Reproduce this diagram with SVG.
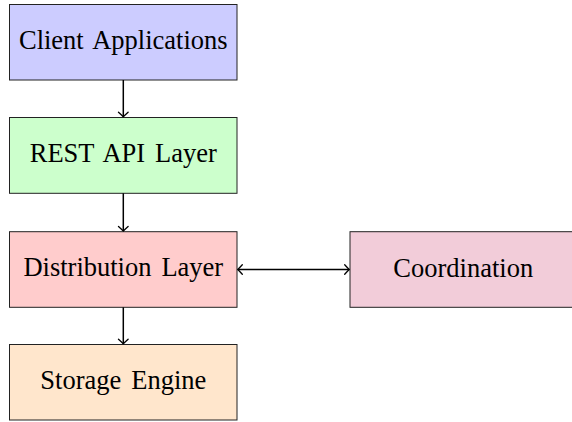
<svg xmlns="http://www.w3.org/2000/svg" width="572" height="422" viewBox="0 0 572 422">
<style>
.box{stroke:#222;stroke-width:1}
.lbl{font-family:"Liberation Serif","Times New Roman",serif;font-size:26.5px;fill:#000;text-anchor:middle;word-spacing:3.3px}
.conn{stroke:#000;stroke-width:1.5;fill:none}
</style>
<defs>
<marker id="arr" viewBox="-6 -6 8 12" markerWidth="8" markerHeight="12" refX="0" refY="0" orient="auto-start-reverse" markerUnits="userSpaceOnUse">
<path d="M-4.5,-4.8 Q-1.2,-1.2 0,0 Q-1.2,1.2 -4.5,4.8" fill="none" stroke="#000" stroke-width="1.3" stroke-linecap="round"/>
</marker>
</defs>
<rect width="572" height="422" fill="#fff"/>
<g id="client">
<rect class="box" x="9.5" y="4.5" width="227.5" height="75.5" fill="#ccccff"/>
<text class="lbl" x="123.3" y="49">Client Applications</text>
</g>
<g id="rest">
<rect class="box" x="9.5" y="117.5" width="227.5" height="75.8" fill="#ccffcc"/>
<text class="lbl" x="123.3" y="161.7">REST API Layer</text>
</g>
<g id="distribution">
<rect class="box" x="9.5" y="231.7" width="227.5" height="75.6" fill="#ffcccc"/>
<text class="lbl" x="123.3" y="276">Distribution Layer</text>
</g>
<g id="coordination">
<rect class="box" x="350" y="231.7" width="227" height="75.6" fill="#f2ccd9"/>
<text class="lbl" x="463.3" y="277.3">Coordination</text>
</g>
<g id="storage">
<rect class="box" x="9.5" y="344.5" width="227.5" height="75.5" fill="#ffe6cc"/>
<text class="lbl" x="123.3" y="388.7">Storage Engine</text>
</g>
<g id="connectors">
<line class="conn" x1="123.3" y1="80" x2="123.3" y2="116.8" marker-end="url(#arr)"/>
<line class="conn" x1="123.3" y1="193.3" x2="123.3" y2="231" marker-end="url(#arr)"/>
<line class="conn" x1="123.3" y1="307.3" x2="123.3" y2="343.8" marker-end="url(#arr)"/>
<line class="conn" x1="237.8" y1="269.5" x2="349.2" y2="269.5" marker-start="url(#arr)" marker-end="url(#arr)"/>
</g>
</svg>
